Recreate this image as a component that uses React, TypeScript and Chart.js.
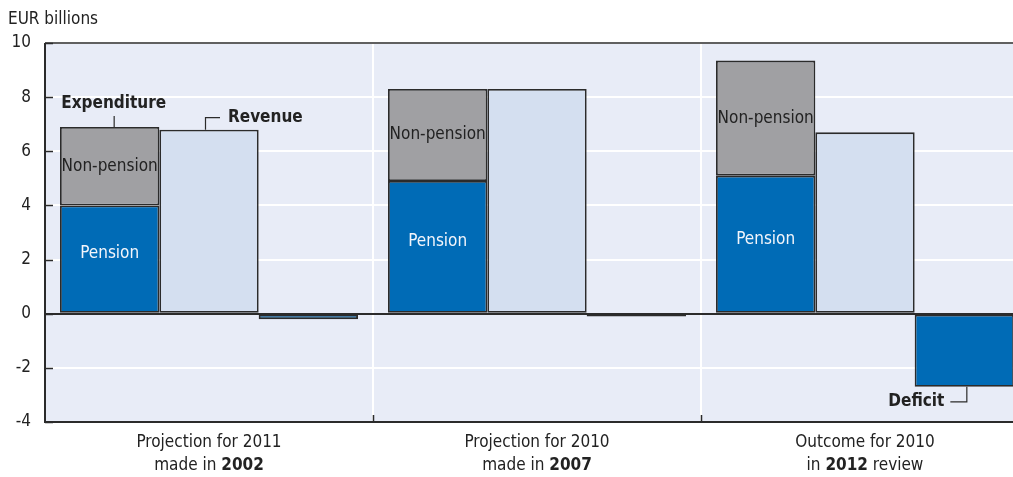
import React, { useEffect, useRef } from "react";
import { Chart, registerables } from "chart.js";
Chart.register(...registerables);

const categoriesLine1 = ["Projection for 2011", "Projection for 2010", "Outcome for 2010"];
const categoriesLine2Prefix = ["made in ", "made in ", "in "];
const categoriesLine2Bold = ["2002", "2007", "2012"];
const categoriesLine2Suffix = ["", "", " review"];
const pension = [4.0, 4.9, 5.1];
const nonPension = [2.9, 3.4, 4.25];
const revenue = [6.8, 8.3, 6.7];
const deficit = [-0.2, -0.1, -2.7];
const yTicks = [-4, -2, 0, 2, 4, 6, 8, 10];

const FONT = "'Liberation Sans Narrow', 'DejaVu Sans Condensed', 'Roboto', sans-serif";
const BLUE = "#006bb6";
const GREY = "#a0a0a3";
const LIGHT = "#d4dff0";
const BG = "#e8ecf7";
const DARK = "#2b2b2b";

const overlay = {
  id: "overlay",
  beforeDraw(chart: any) {
    const { ctx, chartArea } = chart;
    ctx.save();
    ctx.fillStyle = BG;
    ctx.fillRect(chartArea.left, chartArea.top, chartArea.right - chartArea.left, chartArea.bottom - chartArea.top);
    ctx.restore();
  },
  afterDraw(chart: any) {
    const { ctx, chartArea, scales } = chart;
    const y = scales.y;
    const x = scales.x;
    const { left, right, top, bottom } = chartArea;
    ctx.save();
    ctx.strokeStyle = DARK;
    ctx.lineWidth = 2;
    ctx.beginPath();
    ctx.moveTo(left, Math.round(y.getPixelForValue(0)));
    ctx.lineTo(right, Math.round(y.getPixelForValue(0)));
    ctx.stroke();
    ctx.beginPath();
    ctx.moveTo(left, top);
    ctx.lineTo(left, bottom);
    ctx.lineTo(right, bottom);
    ctx.stroke();
    ctx.lineWidth = 1.5;
    ctx.beginPath();
    ctx.moveTo(left, top);
    ctx.lineTo(right, top);
    ctx.stroke();
    ctx.lineWidth = 1.5;
    yTicks.forEach((v) => {
      const py = Math.round(y.getPixelForValue(v)) + 0.5;
      ctx.beginPath();
      ctx.moveTo(left, py);
      ctx.lineTo(left + 8, py);
      ctx.stroke();
    });
    for (let i = 1; i < categoriesLine1.length; i++) {
      const px = Math.round((x.getPixelForValue(i - 1) + x.getPixelForValue(i)) / 2) + 0.5;
      ctx.beginPath();
      ctx.moveTo(px, bottom);
      ctx.lineTo(px, bottom - 7);
      ctx.stroke();
    }
    ctx.fillStyle = "#222";
    ctx.textBaseline = "middle";
    categoriesLine1.forEach((t, i) => {
      const cx = x.getPixelForValue(i);
      ctx.font = `17px ${FONT}`;
      ctx.textAlign = "center";
      ctx.fillText(t, cx, bottom + 21);
      const pre = categoriesLine2Prefix[i];
      const bold = categoriesLine2Bold[i];
      const suf = categoriesLine2Suffix[i];
      ctx.font = `17px ${FONT}`;
      const wPre = ctx.measureText(pre).width;
      const wSuf = ctx.measureText(suf).width;
      ctx.font = `bold 17px ${FONT}`;
      const wBold = ctx.measureText(bold).width;
      const total = wPre + wBold + wSuf;
      let sx = cx - total / 2;
      ctx.textAlign = "left";
      ctx.font = `17px ${FONT}`;
      ctx.fillText(pre, sx, bottom + 44);
      sx += wPre;
      ctx.font = `bold 17px ${FONT}`;
      ctx.fillText(bold, sx, bottom + 44);
      sx += wBold;
      ctx.font = `17px ${FONT}`;
      ctx.fillText(suf, sx, bottom + 44);
    });
    ctx.font = `17px ${FONT}`;
    ctx.textAlign = "left";
    ctx.fillStyle = "#222";
    ctx.fillText("EUR billions", 8, 20);

    const mP = chart.getDatasetMeta(0);
    const mN = chart.getDatasetMeta(1);
    const mR = chart.getDatasetMeta(2);
    const mD = chart.getDatasetMeta(3);
    ctx.textAlign = "center";
    mP.data.forEach((b: any) => {
      ctx.font = `17px ${FONT}`;
      ctx.fillStyle = "#f2f5fb";
      ctx.fillText("Pension", b.x, (b.y + b.base) / 2 - 5);
    });
    mN.data.forEach((b: any) => {
      ctx.font = `17px ${FONT}`;
      ctx.fillStyle = "#222";
      ctx.fillText("Non-pension", b.x, (b.y + b.base) / 2);
    });
    ctx.strokeStyle = DARK;
    ctx.lineWidth = 1.2;
    ctx.fillStyle = "#222";
    ctx.font = `bold 17px ${FONT}`;
    const e = mN.data[0];
    ctx.beginPath();
    ctx.moveTo(e.x + 4.5, e.y);
    ctx.lineTo(e.x + 4.5, e.y - 11);
    ctx.stroke();
    ctx.textAlign = "center";
    ctx.fillText("Expenditure", e.x + 4, e.y - 23);
    const r = mR.data[0];
    ctx.beginPath();
    ctx.moveTo(r.x - 3.5, r.y);
    ctx.lineTo(r.x - 3.5, r.y - 12);
    ctx.lineTo(r.x + 11, r.y - 12);
    ctx.stroke();
    ctx.textAlign = "left";
    ctx.fillText("Revenue", r.x + 19, r.y - 12);
    const d = mD.data[2];
    ctx.beginPath();
    ctx.moveTo(d.x + 2.5, d.y);
    ctx.lineTo(d.x + 2.5, d.y + 15);
    ctx.lineTo(d.x - 14, d.y + 15);
    ctx.stroke();
    ctx.textAlign = "right";
    ctx.fillText("Deficit", d.x - 20, d.y + 15);
    ctx.restore();
  },
};

export default function App() {
  const ref = useRef<HTMLCanvasElement>(null);
  useEffect(() => {
    if (!ref.current) return;
    const common = { borderColor: DARK, borderWidth: 1.8, borderSkipped: false as const };
    const chart = new Chart(ref.current, {
      type: "bar",
      data: {
        labels: categoriesLine1,
        datasets: [
          { label: "Pension", data: pension, backgroundColor: BLUE, stack: "exp", ...common },
          { label: "Non-pension", data: nonPension, backgroundColor: GREY, stack: "exp", ...common },
          { label: "Revenue", data: revenue, backgroundColor: LIGHT, stack: "rev", ...common },
          { label: "Deficit", data: deficit, backgroundColor: BLUE, stack: "def", ...common },
        ],
      },
      options: {
        animation: false,
        responsive: false,
        devicePixelRatio: 1,
        layout: { padding: { top: 43, right: 0, left: 0, bottom: 0 } },
        plugins: { legend: { display: false }, tooltip: { enabled: false } },
        datasets: { bar: { categoryPercentage: 298 / 328, barPercentage: 1 } },
        scales: {
          x: {
            grid: { color: "#ffffff", lineWidth: 2, drawTicks: false, offset: true },
            border: { display: false },
            ticks: { display: false },
            afterFit: (s: any) => { s.height = 55; },
          },
          y: {
            stacked: true,
            min: -4,
            max: 10,
            grid: { color: "#ffffff", lineWidth: 2, drawTicks: false },
            border: { display: false },
            ticks: {
              stepSize: 2,
              padding: 14,
              color: "#222",
              font: { family: FONT, size: 17 },
            },
            afterFit: (s: any) => { s.width = 45; },
          },
        },
      },
      plugins: [overlay],
    });
    return () => chart.destroy();
  }, []);
  return (
    <div style={{ position: "fixed", left: 0, top: 0, width: 1029, height: 477, background: "#fff" }}>
      <canvas ref={ref} width={1029} height={477} style={{ display: "block" }} />
    </div>
  );
}
